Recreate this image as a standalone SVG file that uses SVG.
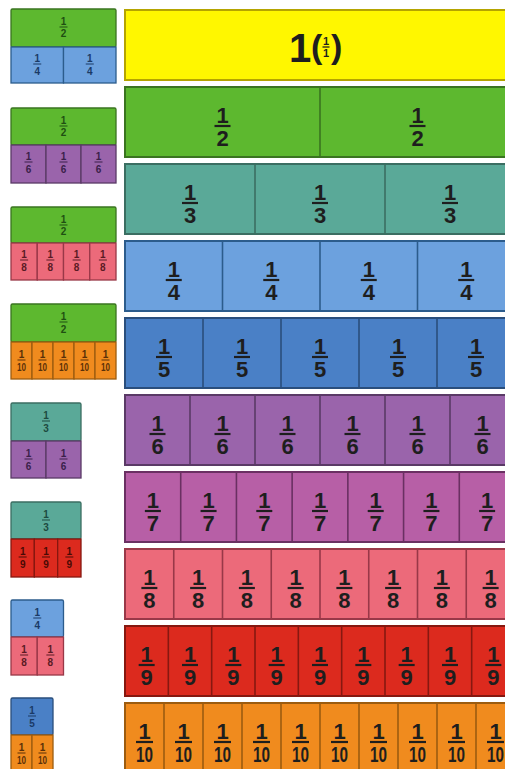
<svg xmlns="http://www.w3.org/2000/svg" width="505" height="769" viewBox="0 0 505 769">
<style>
text{font-family:"Liberation Sans",Arial,sans-serif;font-weight:bold;text-anchor:middle}
.f{font-size:22px;fill:#1e1e1e}
.fl{stroke:#1e1e1e;stroke-width:2.2}
.m{font-size:10px}
.ml{stroke-width:1.3}
.b{stroke-width:2}
.d{stroke-width:1.6}
.yel{fill:#fff700;stroke:#b5a400}
.grn{fill:#5db82f;stroke:#3a7420}
.tea{fill:#5aa998;stroke:#3b6e62}
.lbl{fill:#6ca1de;stroke:#2c5c8c}
.blu{fill:#4a80c6;stroke:#2a4e7c}
.pur{fill:#9a64ab;stroke:#5a3a66}
.mag{fill:#b75fa6;stroke:#6a3062}
.pnk{fill:#ec6a7a;stroke:#993848}
.red{fill:#dc2a1e;stroke:#861810}
.orn{fill:#f08b1e;stroke:#9c5c10}
.tg{fill:#1f4f12}.sg{stroke:#1f4f12}
.tt{fill:#1d4a40}.st{stroke:#1d4a40}
.tb{fill:#1a3a66}.sb{stroke:#1a3a66}
.tp{fill:#3a1f4a}.sp{stroke:#3a1f4a}
.tk{fill:#5a1a24}.sk{stroke:#5a1a24}
.tr{fill:#4a0a05}.sr{stroke:#4a0a05}
.to{fill:#5a3008}.so{stroke:#5a3008}
.ttl{fill:#1e1e1e;text-anchor:start}
</style>

<!-- Main bars -->
<g id="bar-1">
<rect class="yel b" x="125" y="10" width="390" height="70"/>
<text class="ttl" x="289" y="62" style="font-size:40px">1</text>
<text class="ttl" x="311" y="58" style="font-size:34px">(</text>
<text x="326" y="45" style="font-size:11px;fill:#1e1e1e">1</text>
<line x1="322.5" y1="47" x2="329.5" y2="47" stroke="#1e1e1e" stroke-width="1.3"/>
<text x="326" y="57" style="font-size:11px;fill:#1e1e1e">1</text>
<text class="ttl" x="331" y="58" style="font-size:34px">)</text>
</g>

<g id="bar-2">
<rect class="grn b" x="125" y="87" width="390" height="70"/>
<line class="grn d" x1="320" y1="87" x2="320" y2="157"/>
<text class="f" x="222.5" y="123">1</text><line class="fl" x1="214.5" y1="126" x2="230.5" y2="126"/><text class="f" x="222.5" y="146">2</text>
<text class="f" x="417.5" y="123">1</text><line class="fl" x1="409.5" y1="126" x2="425.5" y2="126"/><text class="f" x="417.5" y="146">2</text>
</g>

<g id="bar-3">
<rect class="tea b" x="125" y="164" width="390" height="70"/>
<line class="tea d" x1="255" y1="164" x2="255" y2="234"/>
<line class="tea d" x1="385" y1="164" x2="385" y2="234"/>
<text class="f" x="190" y="200">1</text><line class="fl" x1="182" y1="203" x2="198" y2="203"/><text class="f" x="190" y="223">3</text>
<text class="f" x="320" y="200">1</text><line class="fl" x1="312" y1="203" x2="328" y2="203"/><text class="f" x="320" y="223">3</text>
<text class="f" x="450" y="200">1</text><line class="fl" x1="442" y1="203" x2="458" y2="203"/><text class="f" x="450" y="223">3</text>
</g>

<g id="bar-4">
<rect class="lbl b" x="125" y="241" width="390" height="70"/>
<line class="lbl d" x1="222.5" y1="241" x2="222.5" y2="311"/>
<line class="lbl d" x1="320" y1="241" x2="320" y2="311"/>
<line class="lbl d" x1="417.5" y1="241" x2="417.5" y2="311"/>
<text class="f" x="173.75" y="277">1</text><line class="fl" x1="165.75" y1="280" x2="181.75" y2="280"/><text class="f" x="173.75" y="300">4</text>
<text class="f" x="271.25" y="277">1</text><line class="fl" x1="263.25" y1="280" x2="279.25" y2="280"/><text class="f" x="271.25" y="300">4</text>
<text class="f" x="368.75" y="277">1</text><line class="fl" x1="360.75" y1="280" x2="376.75" y2="280"/><text class="f" x="368.75" y="300">4</text>
<text class="f" x="466.25" y="277">1</text><line class="fl" x1="458.25" y1="280" x2="474.25" y2="280"/><text class="f" x="466.25" y="300">4</text>
</g>

<g id="bar-5">
<rect class="blu b" x="125" y="318" width="390" height="70"/>
<line class="blu d" x1="203" y1="318" x2="203" y2="388"/>
<line class="blu d" x1="281" y1="318" x2="281" y2="388"/>
<line class="blu d" x1="359" y1="318" x2="359" y2="388"/>
<line class="blu d" x1="437" y1="318" x2="437" y2="388"/>
<text class="f" x="164" y="354">1</text><line class="fl" x1="156" y1="357" x2="172" y2="357"/><text class="f" x="164" y="377">5</text>
<text class="f" x="242" y="354">1</text><line class="fl" x1="234" y1="357" x2="250" y2="357"/><text class="f" x="242" y="377">5</text>
<text class="f" x="320" y="354">1</text><line class="fl" x1="312" y1="357" x2="328" y2="357"/><text class="f" x="320" y="377">5</text>
<text class="f" x="398" y="354">1</text><line class="fl" x1="390" y1="357" x2="406" y2="357"/><text class="f" x="398" y="377">5</text>
<text class="f" x="476" y="354">1</text><line class="fl" x1="468" y1="357" x2="484" y2="357"/><text class="f" x="476" y="377">5</text>
</g>

<g id="bar-6">
<rect class="pur b" x="125" y="395" width="390" height="70"/>
<line class="pur d" x1="190" y1="395" x2="190" y2="465"/>
<line class="pur d" x1="255" y1="395" x2="255" y2="465"/>
<line class="pur d" x1="320" y1="395" x2="320" y2="465"/>
<line class="pur d" x1="385" y1="395" x2="385" y2="465"/>
<line class="pur d" x1="450" y1="395" x2="450" y2="465"/>
<text class="f" x="157.5" y="431">1</text><line class="fl" x1="149.5" y1="434" x2="165.5" y2="434"/><text class="f" x="157.5" y="454">6</text>
<text class="f" x="222.5" y="431">1</text><line class="fl" x1="214.5" y1="434" x2="230.5" y2="434"/><text class="f" x="222.5" y="454">6</text>
<text class="f" x="287.5" y="431">1</text><line class="fl" x1="279.5" y1="434" x2="295.5" y2="434"/><text class="f" x="287.5" y="454">6</text>
<text class="f" x="352.5" y="431">1</text><line class="fl" x1="344.5" y1="434" x2="360.5" y2="434"/><text class="f" x="352.5" y="454">6</text>
<text class="f" x="417.5" y="431">1</text><line class="fl" x1="409.5" y1="434" x2="425.5" y2="434"/><text class="f" x="417.5" y="454">6</text>
<text class="f" x="482.5" y="431">1</text><line class="fl" x1="474.5" y1="434" x2="490.5" y2="434"/><text class="f" x="482.5" y="454">6</text>
</g>

<g id="bar-7">
<rect class="mag b" x="125" y="472" width="390" height="70"/>
<line class="mag d" x1="180.71" y1="472" x2="180.71" y2="542"/>
<line class="mag d" x1="236.43" y1="472" x2="236.43" y2="542"/>
<line class="mag d" x1="292.14" y1="472" x2="292.14" y2="542"/>
<line class="mag d" x1="347.86" y1="472" x2="347.86" y2="542"/>
<line class="mag d" x1="403.57" y1="472" x2="403.57" y2="542"/>
<line class="mag d" x1="459.29" y1="472" x2="459.29" y2="542"/>
<text class="f" x="152.86" y="508">1</text><line class="fl" x1="144.86" y1="511" x2="160.86" y2="511"/><text class="f" x="152.86" y="531">7</text>
<text class="f" x="208.57" y="508">1</text><line class="fl" x1="200.57" y1="511" x2="216.57" y2="511"/><text class="f" x="208.57" y="531">7</text>
<text class="f" x="264.29" y="508">1</text><line class="fl" x1="256.29" y1="511" x2="272.29" y2="511"/><text class="f" x="264.29" y="531">7</text>
<text class="f" x="320" y="508">1</text><line class="fl" x1="312" y1="511" x2="328" y2="511"/><text class="f" x="320" y="531">7</text>
<text class="f" x="375.71" y="508">1</text><line class="fl" x1="367.71" y1="511" x2="383.71" y2="511"/><text class="f" x="375.71" y="531">7</text>
<text class="f" x="431.43" y="508">1</text><line class="fl" x1="423.43" y1="511" x2="439.43" y2="511"/><text class="f" x="431.43" y="531">7</text>
<text class="f" x="487.14" y="508">1</text><line class="fl" x1="479.14" y1="511" x2="495.14" y2="511"/><text class="f" x="487.14" y="531">7</text>
</g>

<g id="bar-8">
<rect class="pnk b" x="125" y="549" width="390" height="70"/>
<line class="pnk d" x1="173.75" y1="549" x2="173.75" y2="619"/>
<line class="pnk d" x1="222.5" y1="549" x2="222.5" y2="619"/>
<line class="pnk d" x1="271.25" y1="549" x2="271.25" y2="619"/>
<line class="pnk d" x1="320" y1="549" x2="320" y2="619"/>
<line class="pnk d" x1="368.75" y1="549" x2="368.75" y2="619"/>
<line class="pnk d" x1="417.5" y1="549" x2="417.5" y2="619"/>
<line class="pnk d" x1="466.25" y1="549" x2="466.25" y2="619"/>
<text class="f" x="149.38" y="585">1</text><line class="fl" x1="141.38" y1="588" x2="157.38" y2="588"/><text class="f" x="149.38" y="608">8</text>
<text class="f" x="198.13" y="585">1</text><line class="fl" x1="190.13" y1="588" x2="206.13" y2="588"/><text class="f" x="198.13" y="608">8</text>
<text class="f" x="246.88" y="585">1</text><line class="fl" x1="238.88" y1="588" x2="254.88" y2="588"/><text class="f" x="246.88" y="608">8</text>
<text class="f" x="295.63" y="585">1</text><line class="fl" x1="287.63" y1="588" x2="303.63" y2="588"/><text class="f" x="295.63" y="608">8</text>
<text class="f" x="344.38" y="585">1</text><line class="fl" x1="336.38" y1="588" x2="352.38" y2="588"/><text class="f" x="344.38" y="608">8</text>
<text class="f" x="393.13" y="585">1</text><line class="fl" x1="385.13" y1="588" x2="401.13" y2="588"/><text class="f" x="393.13" y="608">8</text>
<text class="f" x="441.88" y="585">1</text><line class="fl" x1="433.88" y1="588" x2="449.88" y2="588"/><text class="f" x="441.88" y="608">8</text>
<text class="f" x="490.63" y="585">1</text><line class="fl" x1="482.63" y1="588" x2="498.63" y2="588"/><text class="f" x="490.63" y="608">8</text>
</g>

<g id="bar-9">
<rect class="red b" x="125" y="626" width="390" height="70"/>
<line class="red d" x1="168.33" y1="626" x2="168.33" y2="696"/>
<line class="red d" x1="211.67" y1="626" x2="211.67" y2="696"/>
<line class="red d" x1="255" y1="626" x2="255" y2="696"/>
<line class="red d" x1="298.33" y1="626" x2="298.33" y2="696"/>
<line class="red d" x1="341.67" y1="626" x2="341.67" y2="696"/>
<line class="red d" x1="385" y1="626" x2="385" y2="696"/>
<line class="red d" x1="428.33" y1="626" x2="428.33" y2="696"/>
<line class="red d" x1="471.67" y1="626" x2="471.67" y2="696"/>
<text class="f" x="146.67" y="662">1</text><line class="fl" x1="138.67" y1="665" x2="154.67" y2="665"/><text class="f" x="146.67" y="685">9</text>
<text class="f" x="190" y="662">1</text><line class="fl" x1="182" y1="665" x2="198" y2="665"/><text class="f" x="190" y="685">9</text>
<text class="f" x="233.33" y="662">1</text><line class="fl" x1="225.33" y1="665" x2="241.33" y2="665"/><text class="f" x="233.33" y="685">9</text>
<text class="f" x="276.67" y="662">1</text><line class="fl" x1="268.67" y1="665" x2="284.67" y2="665"/><text class="f" x="276.67" y="685">9</text>
<text class="f" x="320" y="662">1</text><line class="fl" x1="312" y1="665" x2="328" y2="665"/><text class="f" x="320" y="685">9</text>
<text class="f" x="363.33" y="662">1</text><line class="fl" x1="355.33" y1="665" x2="371.33" y2="665"/><text class="f" x="363.33" y="685">9</text>
<text class="f" x="406.67" y="662">1</text><line class="fl" x1="398.67" y1="665" x2="414.67" y2="665"/><text class="f" x="406.67" y="685">9</text>
<text class="f" x="450" y="662">1</text><line class="fl" x1="442" y1="665" x2="458" y2="665"/><text class="f" x="450" y="685">9</text>
<text class="f" x="493.33" y="662">1</text><line class="fl" x1="485.33" y1="665" x2="501.33" y2="665"/><text class="f" x="493.33" y="685">9</text>
</g>

<g id="bar-10">
<rect class="orn b" x="125" y="703" width="390" height="70"/>
<line class="orn d" x1="164" y1="703" x2="164" y2="773"/>
<line class="orn d" x1="203" y1="703" x2="203" y2="773"/>
<line class="orn d" x1="242" y1="703" x2="242" y2="773"/>
<line class="orn d" x1="281" y1="703" x2="281" y2="773"/>
<line class="orn d" x1="320" y1="703" x2="320" y2="773"/>
<line class="orn d" x1="359" y1="703" x2="359" y2="773"/>
<line class="orn d" x1="398" y1="703" x2="398" y2="773"/>
<line class="orn d" x1="437" y1="703" x2="437" y2="773"/>
<line class="orn d" x1="476" y1="703" x2="476" y2="773"/>
<text class="f" x="144.5" y="739">1</text><line class="fl" x1="136" y1="742" x2="153" y2="742"/><text class="f" x="144.5" y="762" textLength="17" lengthAdjust="spacingAndGlyphs">10</text>
<text class="f" x="183.5" y="739">1</text><line class="fl" x1="175" y1="742" x2="192" y2="742"/><text class="f" x="183.5" y="762" textLength="17" lengthAdjust="spacingAndGlyphs">10</text>
<text class="f" x="222.5" y="739">1</text><line class="fl" x1="214" y1="742" x2="231" y2="742"/><text class="f" x="222.5" y="762" textLength="17" lengthAdjust="spacingAndGlyphs">10</text>
<text class="f" x="261.5" y="739">1</text><line class="fl" x1="253" y1="742" x2="270" y2="742"/><text class="f" x="261.5" y="762" textLength="17" lengthAdjust="spacingAndGlyphs">10</text>
<text class="f" x="300.5" y="739">1</text><line class="fl" x1="292" y1="742" x2="309" y2="742"/><text class="f" x="300.5" y="762" textLength="17" lengthAdjust="spacingAndGlyphs">10</text>
<text class="f" x="339.5" y="739">1</text><line class="fl" x1="331" y1="742" x2="348" y2="742"/><text class="f" x="339.5" y="762" textLength="17" lengthAdjust="spacingAndGlyphs">10</text>
<text class="f" x="378.5" y="739">1</text><line class="fl" x1="370" y1="742" x2="387" y2="742"/><text class="f" x="378.5" y="762" textLength="17" lengthAdjust="spacingAndGlyphs">10</text>
<text class="f" x="417.5" y="739">1</text><line class="fl" x1="409" y1="742" x2="426" y2="742"/><text class="f" x="417.5" y="762" textLength="17" lengthAdjust="spacingAndGlyphs">10</text>
<text class="f" x="456.5" y="739">1</text><line class="fl" x1="448" y1="742" x2="465" y2="742"/><text class="f" x="456.5" y="762" textLength="17" lengthAdjust="spacingAndGlyphs">10</text>
<text class="f" x="495.5" y="739">1</text><line class="fl" x1="487" y1="742" x2="504" y2="742"/><text class="f" x="495.5" y="762" textLength="17" lengthAdjust="spacingAndGlyphs">10</text>
</g>

<!-- Mini comparison blocks -->
<g id="mini-half-quarters">
<rect class="grn ml" x="11" y="9" width="105" height="38" rx="1.5"/>
<rect class="lbl ml" x="11" y="47" width="52.5" height="36"/>
<rect class="lbl ml" x="63.5" y="47" width="52.5" height="36"/>
<text class="m tg" x="63.5" y="25">1</text><line class="sg" stroke-width="1" x1="59.5" y1="27" x2="67.5" y2="27"/><text class="m tg" x="63.5" y="37">2</text>
<text class="m tb" x="37.25" y="62">1</text><line class="sb" stroke-width="1" x1="33.25" y1="64" x2="41.25" y2="64"/><text class="m tb" x="37.25" y="75">4</text>
<text class="m tb" x="89.75" y="62">1</text><line class="sb" stroke-width="1" x1="85.75" y1="64" x2="93.75" y2="64"/><text class="m tb" x="89.75" y="75">4</text>
</g>

<g id="mini-half-sixths">
<rect class="grn ml" x="11" y="108" width="105" height="37" rx="1.5"/>
<rect class="pur ml" x="11" y="145" width="35" height="38"/>
<rect class="pur ml" x="46" y="145" width="35" height="38"/>
<rect class="pur ml" x="81" y="145" width="35" height="38"/>
<text class="m tg" x="63.5" y="124">1</text><line class="sg" stroke-width="1" x1="59.5" y1="126" x2="67.5" y2="126"/><text class="m tg" x="63.5" y="136">2</text>
<text class="m tp" x="28.5" y="160">1</text><line class="sp" stroke-width="1" x1="24.5" y1="162" x2="32.5" y2="162"/><text class="m tp" x="28.5" y="173">6</text>
<text class="m tp" x="63.5" y="160">1</text><line class="sp" stroke-width="1" x1="59.5" y1="162" x2="67.5" y2="162"/><text class="m tp" x="63.5" y="173">6</text>
<text class="m tp" x="98.5" y="160">1</text><line class="sp" stroke-width="1" x1="94.5" y1="162" x2="102.5" y2="162"/><text class="m tp" x="98.5" y="173">6</text>
</g>

<g id="mini-half-eighths">
<rect class="grn ml" x="11" y="207" width="105" height="36" rx="1.5"/>
<rect class="pnk ml" x="11" y="243" width="26.25" height="37"/>
<rect class="pnk ml" x="37.25" y="243" width="26.25" height="37"/>
<rect class="pnk ml" x="63.5" y="243" width="26.25" height="37"/>
<rect class="pnk ml" x="89.75" y="243" width="26.25" height="37"/>
<text class="m tg" x="63.5" y="223">1</text><line class="sg" stroke-width="1" x1="59.5" y1="225" x2="67.5" y2="225"/><text class="m tg" x="63.5" y="235">2</text>
<text class="m tk" x="24.13" y="258">1</text><line class="sk" stroke-width="1" x1="20.13" y1="260" x2="28.13" y2="260"/><text class="m tk" x="24.13" y="271">8</text>
<text class="m tk" x="50.38" y="258">1</text><line class="sk" stroke-width="1" x1="46.38" y1="260" x2="54.38" y2="260"/><text class="m tk" x="50.38" y="271">8</text>
<text class="m tk" x="76.63" y="258">1</text><line class="sk" stroke-width="1" x1="72.63" y1="260" x2="80.63" y2="260"/><text class="m tk" x="76.63" y="271">8</text>
<text class="m tk" x="102.88" y="258">1</text><line class="sk" stroke-width="1" x1="98.88" y1="260" x2="106.88" y2="260"/><text class="m tk" x="102.88" y="271">8</text>
</g>

<g id="mini-half-tenths">
<rect class="grn ml" x="11" y="304" width="105" height="38" rx="1.5"/>
<rect class="orn ml" x="11" y="342" width="21" height="37"/>
<rect class="orn ml" x="32" y="342" width="21" height="37"/>
<rect class="orn ml" x="53" y="342" width="21" height="37"/>
<rect class="orn ml" x="74" y="342" width="21" height="37"/>
<rect class="orn ml" x="95" y="342" width="21" height="37"/>
<text class="m tg" x="63.5" y="320">1</text><line class="sg" stroke-width="1" x1="59.5" y1="322" x2="67.5" y2="322"/><text class="m tg" x="63.5" y="333">2</text>
<text class="m to" x="21.5" y="358">1</text><line class="so" stroke-width="1" x1="17.5" y1="360" x2="25.5" y2="360"/><text class="m to" x="21.5" y="371" textLength="9" lengthAdjust="spacingAndGlyphs">10</text>
<text class="m to" x="42.5" y="358">1</text><line class="so" stroke-width="1" x1="38.5" y1="360" x2="46.5" y2="360"/><text class="m to" x="42.5" y="371" textLength="9" lengthAdjust="spacingAndGlyphs">10</text>
<text class="m to" x="63.5" y="358">1</text><line class="so" stroke-width="1" x1="59.5" y1="360" x2="67.5" y2="360"/><text class="m to" x="63.5" y="371" textLength="9" lengthAdjust="spacingAndGlyphs">10</text>
<text class="m to" x="84.5" y="358">1</text><line class="so" stroke-width="1" x1="80.5" y1="360" x2="88.5" y2="360"/><text class="m to" x="84.5" y="371" textLength="9" lengthAdjust="spacingAndGlyphs">10</text>
<text class="m to" x="105.5" y="358">1</text><line class="so" stroke-width="1" x1="101.5" y1="360" x2="109.5" y2="360"/><text class="m to" x="105.5" y="371" textLength="9" lengthAdjust="spacingAndGlyphs">10</text>
</g>

<g id="mini-third-sixths">
<rect class="tea ml" x="11" y="403" width="70" height="38" rx="1.5"/>
<rect class="pur ml" x="11" y="441" width="35" height="37"/>
<rect class="pur ml" x="46" y="441" width="35" height="37"/>
<text class="m tt" x="46" y="419">1</text><line class="st" stroke-width="1" x1="42" y1="421" x2="50" y2="421"/><text class="m tt" x="46" y="432">3</text>
<text class="m tp" x="28.5" y="457">1</text><line class="sp" stroke-width="1" x1="24.5" y1="459" x2="32.5" y2="459"/><text class="m tp" x="28.5" y="470">6</text>
<text class="m tp" x="63.5" y="457">1</text><line class="sp" stroke-width="1" x1="59.5" y1="459" x2="67.5" y2="459"/><text class="m tp" x="63.5" y="470">6</text>
</g>

<g id="mini-third-ninths">
<rect class="tea ml" x="11" y="502" width="70" height="37" rx="1.5"/>
<rect class="red ml" x="11" y="539" width="23.33" height="38"/>
<rect class="red ml" x="34.33" y="539" width="23.33" height="38"/>
<rect class="red ml" x="57.67" y="539" width="23.33" height="38"/>
<text class="m tt" x="46" y="518">1</text><line class="st" stroke-width="1" x1="42" y1="520" x2="50" y2="520"/><text class="m tt" x="46" y="531">3</text>
<text class="m tr" x="22.67" y="555">1</text><line class="sr" stroke-width="1" x1="18.67" y1="557" x2="26.67" y2="557"/><text class="m tr" x="22.67" y="568">9</text>
<text class="m tr" x="46" y="555">1</text><line class="sr" stroke-width="1" x1="42" y1="557" x2="50" y2="557"/><text class="m tr" x="46" y="568">9</text>
<text class="m tr" x="69.33" y="555">1</text><line class="sr" stroke-width="1" x1="65.33" y1="557" x2="73.33" y2="557"/><text class="m tr" x="69.33" y="568">9</text>
</g>

<g id="mini-quarter-eighths">
<rect class="lbl ml" x="11" y="600" width="52.5" height="37" rx="1.5"/>
<rect class="pnk ml" x="11" y="637" width="26.25" height="38"/>
<rect class="pnk ml" x="37.25" y="637" width="26.25" height="38"/>
<text class="m tb" x="37.25" y="616">1</text><line class="sb" stroke-width="1" x1="33.25" y1="618" x2="41.25" y2="618"/><text class="m tb" x="37.25" y="629">4</text>
<text class="m tk" x="24.13" y="653">1</text><line class="sk" stroke-width="1" x1="20.13" y1="655" x2="28.13" y2="655"/><text class="m tk" x="24.13" y="666">8</text>
<text class="m tk" x="50.38" y="653">1</text><line class="sk" stroke-width="1" x1="46.38" y1="655" x2="54.38" y2="655"/><text class="m tk" x="50.38" y="666">8</text>
</g>

<g id="mini-fifth-tenths">
<rect class="blu ml" x="11" y="698" width="42" height="37" rx="1.5"/>
<rect class="orn ml" x="11" y="735" width="21" height="38"/>
<rect class="orn ml" x="32" y="735" width="21" height="38"/>
<text class="m tb" x="32" y="714">1</text><line class="sb" stroke-width="1" x1="28" y1="716" x2="36" y2="716"/><text class="m tb" x="32" y="727">5</text>
<text class="m to" x="21.5" y="751">1</text><line class="so" stroke-width="1" x1="17.5" y1="753" x2="25.5" y2="753"/><text class="m to" x="21.5" y="764" textLength="9" lengthAdjust="spacingAndGlyphs">10</text>
<text class="m to" x="42.5" y="751">1</text><line class="so" stroke-width="1" x1="38.5" y1="753" x2="46.5" y2="753"/><text class="m to" x="42.5" y="764" textLength="9" lengthAdjust="spacingAndGlyphs">10</text>
</g>
</svg>
